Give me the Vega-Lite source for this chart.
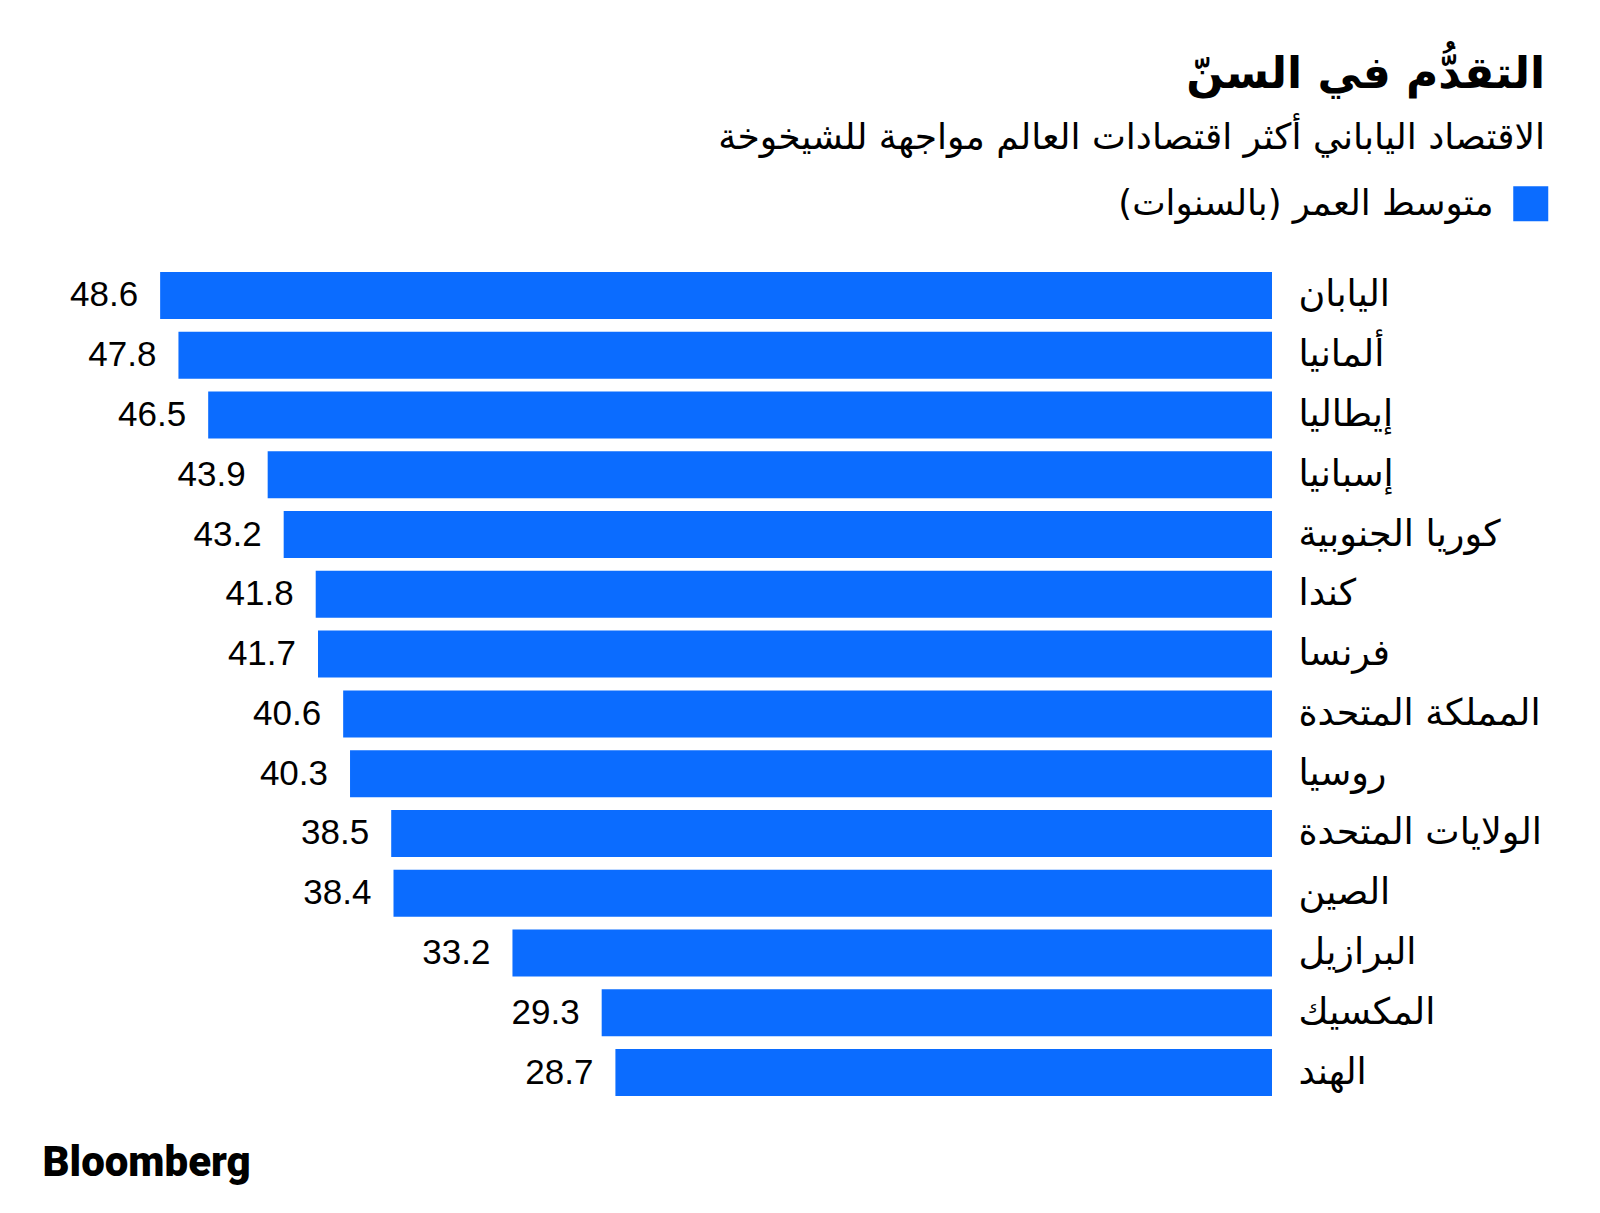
{
  "$schema": "https://vega.github.io/schema/vega-lite/v6.json",
  "width": 1272,
  "height": 836.8,
  "autosize": {"type": "none"},
  "padding": {"left": 0, "top": 265.6, "right": 328, "bottom": 110.6},
  "background": "white",
  "title": {
    "text": "التقدُّم في السنّ",
    "subtitle": "الاقتصاد الياباني أكثر اقتصادات العالم مواجهة للشيخوخة",
    "anchor": "end",
    "frame": "group",
    "dx": 273,
    "offset": 30,
    "font": "DejaVu Sans",
    "fontSize": 44,
    "fontWeight": "bold",
    "color": "#000000",
    "subtitleFont": "DejaVu Sans",
    "subtitleFontSize": 36,
    "subtitleColor": "#000000",
    "subtitlePadding": 24
  },
  "data": {
    "values": [
      {"country": "اليابان", "age": 48.6, "series": "متوسط العمر (بالسنوات)‏"},
      {"country": "ألمانيا", "age": 47.8, "series": "متوسط العمر (بالسنوات)‏"},
      {"country": "إيطاليا", "age": 46.5, "series": "متوسط العمر (بالسنوات)‏"},
      {"country": "إسبانيا", "age": 43.9, "series": "متوسط العمر (بالسنوات)‏"},
      {"country": "كوريا الجنوبية", "age": 43.2, "series": "متوسط العمر (بالسنوات)‏"},
      {"country": "كندا", "age": 41.8, "series": "متوسط العمر (بالسنوات)‏"},
      {"country": "فرنسا", "age": 41.7, "series": "متوسط العمر (بالسنوات)‏"},
      {"country": "المملكة المتحدة", "age": 40.6, "series": "متوسط العمر (بالسنوات)‏"},
      {"country": "روسيا", "age": 40.3, "series": "متوسط العمر (بالسنوات)‏"},
      {"country": "الولايات المتحدة", "age": 38.5, "series": "متوسط العمر (بالسنوات)‏"},
      {"country": "الصين", "age": 38.4, "series": "متوسط العمر (بالسنوات)‏"},
      {"country": "البرازيل", "age": 33.2, "series": "متوسط العمر (بالسنوات)‏"},
      {"country": "المكسيك", "age": 29.3, "series": "متوسط العمر (بالسنوات)‏"},
      {"country": "الهند", "age": 28.7, "series": "متوسط العمر (بالسنوات)‏"}
    ]
  },
  "encoding": {
    "y": {
      "field": "country",
      "type": "nominal",
      "sort": null,
      "scale": {"paddingInner": 0.214, "paddingOuter": 0.107},
      "axis": {
        "orient": "right",
        "title": null,
        "ticks": false,
        "domain": false,
        "grid": false,
        "labelPadding": 26,
        "labelFont": "DejaVu Sans",
        "labelFontSize": 36.5,
        "labelColor": "#000000",
        "labelLimit": 600,
        "labelAlign": "left"
      }
    }
  },
  "layer": [
    {
      "mark": {"type": "bar"},
      "encoding": {
        "x": {
          "field": "age",
          "type": "quantitative",
          "scale": {"domain": [0, 55.6], "reverse": true, "nice": false, "zero": true},
          "axis": {
            "orient": "bottom",
            "labels": false,
            "ticks": false,
            "domain": false,
            "grid": false,
            "title": "Bloomberg",
            "titleFont": "Roboto",
            "titleFontWeight": 900,
            "titleFontSize": 42,
            "titleColor": "#000000",
            "titleX": 42,
            "titleY": 72.6,
            "titleAlign": "left",
            "titleBaseline": "alphabetic",
            "titleAngle": 0
          }
        },
        "color": {
          "field": "series",
          "type": "nominal",
          "scale": {"range": ["#0b6cff"]},
          "legend": {
            "orient": "none",
            "legendX": 1513,
            "legendY": -79.6,
            "title": null,
            "padding": 0,
            "symbolType": "square",
            "symbolSize": 1225,
            "symbolStrokeWidth": 0,
            "labelFont": "DejaVu Sans",
            "labelFontSize": 35.5,
            "labelColor": "#000000",
            "labelAlign": "right",
            "labelOffset": -55,
            "labelLimit": 600
          }
        }
      }
    },
    {
      "mark": {"type": "text", "align": "right", "baseline": "middle", "dx": -22, "font": "Liberation Sans", "fontSize": 35, "color": "#000000"},
      "encoding": {
        "x": {"field": "age", "type": "quantitative"},
        "text": {"field": "age", "type": "quantitative", "format": ".1f"}
      }
    }
  ],
  "config": {"view": {"stroke": null}}
}
